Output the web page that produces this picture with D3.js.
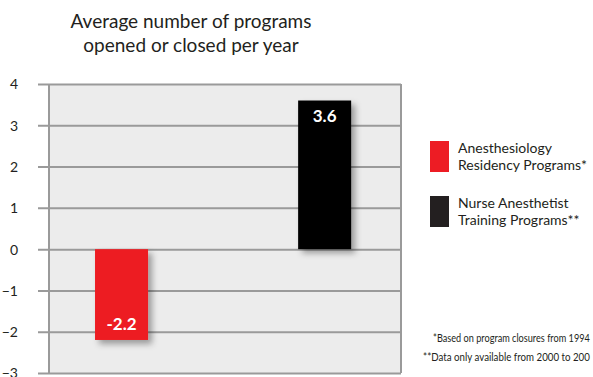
<!DOCTYPE html>
<html>
<head>
<meta charset="utf-8">
<script src="https://cdn.jsdelivr.net/npm/d3@7"></script>
<style>
  body { margin: 0; background: #fff; }
  svg { display: block; font-family: Lato, "Open Sans", sans-serif; }
</style>
</head>
<body>
<div id="chart"></div>
<script>
// chart data
const categories = ["Anesthesiology Residency Programs*", "Nurse Anesthetist Training Programs**"];
const values = [-2.2, 3.6];
const colors = ["#ed1c24", "#000000"];
const legendLines = [["Anesthesiology", "Residency Programs*"], ["Nurse Anesthetist", "Training Programs**"]];
const legendColors = ["#ed1c24", "#231f20"];
const yTicks = [-3, -2, -1, 0, 1, 2, 3, 4];
const titleLines = ["Average number of programs", "opened or closed per year"];
const footnotes = ["*Based on program closures from 1994", "**Data only available from 2000 to 200"];

const W = 593, H = 377;
const plot = { left: 49, right: 401, top: 84, bottom: 373 };

const svg = d3.select("#chart").append("svg")
  .attr("width", W)
  .attr("height", H);

// drop shadow for bars
const defs = svg.append("defs");
const f = defs.append("filter").attr("id", "shadow")
  .attr("x", "-20%").attr("y", "-20%").attr("width", "150%").attr("height", "150%");
f.append("feDropShadow")
  .attr("dx", 4).attr("dy", 4).attr("stdDeviation", 3)
  .attr("flood-color", "#000").attr("flood-opacity", 0.35);

// scales
const x = d3.scaleBand()
  .domain(categories)
  .range([plot.left, plot.right])
  .paddingInner(0.739)
  .paddingOuter(0.236)
  .align(0.48);

const y = d3.scaleLinear()
  .domain([-3, 4])
  .range([plot.bottom, plot.top]);

// plot background
svg.append("rect")
  .attr("x", plot.left).attr("y", plot.top)
  .attr("width", plot.right - plot.left)
  .attr("height", plot.bottom - plot.top)
  .attr("fill", "#ececec");

// gridlines + y labels through axis
const yAxis = d3.axisLeft(y)
  .tickValues(yTicks)
  .tickSize(-(plot.right - 38))
  .tickPadding(0)
  .tickFormat(d3.format("d"));

const gAxis = svg.append("g")
  .attr("transform", `translate(38,0)`)
  .call(yAxis);
gAxis.select(".domain").remove();
gAxis.selectAll(".tick line")
  .attr("x1", 0)
  .attr("x2", plot.right - 38)
  .attr("stroke", "#9a9a9a")
  .attr("stroke-width", 2);
gAxis.selectAll(".tick text")
  .attr("x", -20)
  .attr("text-anchor", "end")
  .attr("dy", "0.35em")
  .attr("font-size", 14)
  .attr("font-family", "Lato, sans-serif")
  .attr("fill", "#231f20");

// borders
svg.append("line")
  .attr("x1", plot.left).attr("x2", plot.left)
  .attr("y1", plot.top).attr("y2", plot.bottom)
  .attr("stroke", "#9a9a9a").attr("stroke-width", 2);
svg.append("line")
  .attr("x1", plot.right).attr("x2", plot.right)
  .attr("y1", plot.top).attr("y2", plot.bottom)
  .attr("stroke", "#9a9a9a").attr("stroke-width", 2);

// bars
const data = categories.map((c, i) => ({ cat: c, value: values[i], color: colors[i] }));

svg.selectAll(".bar")
  .data(data)
  .enter().append("rect")
  .attr("class", "bar")
  .attr("x", d => x(d.cat))
  .attr("width", x.bandwidth())
  .attr("y", d => y(Math.max(0, d.value)))
  .attr("height", d => Math.abs(y(d.value) - y(0)))
  .attr("fill", d => d.color)
  .attr("filter", "url(#shadow)");

// bar labels
svg.selectAll(".barLabel")
  .data(data)
  .enter().append("text")
  .attr("class", "barLabel")
  .attr("x", d => x(d.cat) + x.bandwidth() / 2)
  .attr("y", d => d.value > 0 ? y(d.value) + 21 : y(d.value) - 10)
  .attr("text-anchor", "middle")
  .attr("font-size", 17)
  .attr("font-weight", "bold")
  .attr("fill", "#fff")
  .text(d => d.value.toFixed(1));

// title
svg.append("text")
  .attr("x", 191)
  .attr("y", 28)
  .attr("text-anchor", "middle")
  .attr("font-size", 19)
  .attr("fill", "#231f20")
  .selectAll("tspan")
  .data(titleLines)
  .enter().append("tspan")
  .attr("x", 191)
  .attr("dy", (d, i) => i === 0 ? 0 : 24)
  .text(d => d);

// legend
const legend = svg.selectAll(".legend")
  .data(legendLines)
  .enter().append("g")
  .attr("class", "legend")
  .attr("transform", (d, i) => `translate(430, ${141 + i * 55})`);

legend.append("rect")
  .attr("width", 19)
  .attr("height", 31)
  .attr("fill", (d, i) => legendColors[i]);

legend.append("text")
  .attr("x", 28)
  .attr("y", 12)
  .attr("font-size", 14)
  .attr("fill", "#231f20")
  .selectAll("tspan")
  .data(d => d)
  .enter().append("tspan")
  .attr("x", 28)
  .attr("dy", (d, i) => i === 0 ? 0 : 17)
  .text(d => d);

// footnotes, squeezed horizontally like the condensed face in the original
const footX = [433, 423], footY = [342, 361], footW = [157, 167];
svg.selectAll(".footnote")
  .data(footnotes)
  .enter().append("text")
  .attr("class", "footnote")
  .attr("font-size", 10.5)
  .attr("fill", "#231f20")
  .text(d => d)
  .each(function(d, i) {
    const len = this.getComputedTextLength();
    const k = Math.min(1, footW[i] / len);
    d3.select(this).attr("transform", `translate(${footX[i]},${footY[i]}) scale(${k},1)`);
  });
</script>
</body>
</html>
